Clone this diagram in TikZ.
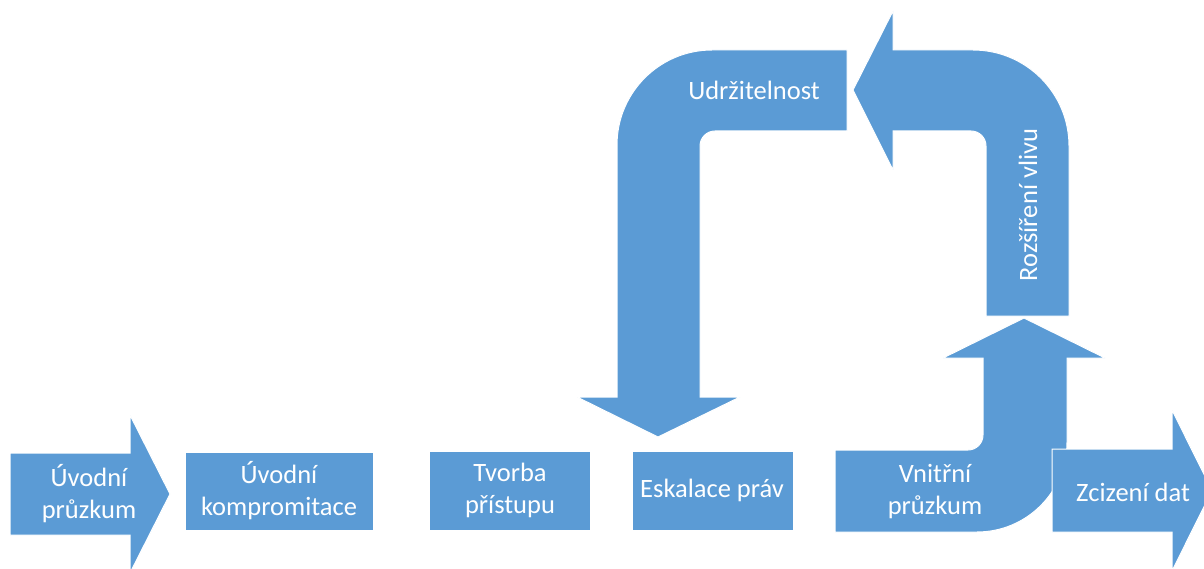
\documentclass[tikz,border=0pt]{standalone}
\usepackage{fontspec}
\setmainfont{Carlito}
\definecolor{flowblue}{HTML}{5B9BD5}
\begin{document}
\begin{tikzpicture}[x=1pt,y=-1pt,
  shapefill/.style={fill=flowblue,draw=white,line width=1pt},
  lbl/.style={text=white,align=center,inner sep=0pt,
    font=\fontsize{26.5}{32}\selectfont}]
\useasboundingbox (0,0) rectangle (1204,569);
\clip (0,0) rectangle (1204,569);

% first step: right arrow
\filldraw[shapefill] (10,453) -- (130,453) -- (130,415) -- (170,494)
  -- (130,573) -- (130,535) -- (10,535) -- cycle;
% plain steps
\filldraw[shapefill] (185,452) rectangle (373,530);
\filldraw[shapefill] (429,451) rectangle (590,530);
\filldraw[shapefill] (632,451) rectangle (793,530);

% bent arrow going up from the inner reconnaissance step
\filldraw[shapefill] (835,450) -- (968,450) arc[start angle=90,end angle=0,radius=15]
  -- (983,358) -- (943,358) -- (1024,318) -- (1105,358) -- (1067,358)
  -- (1067,442) arc[start angle=0,end angle=90,radius=90]
  -- (835,532) -- cycle;

% bent arrow turning left at the top right
\filldraw[shapefill] (853,90) -- (893,11) -- (893,50) -- (973,50)
  arc[start angle=270,end angle=360,radius=96]
  -- (1069,316) -- (986,316) -- (986,146)
  arc[start angle=0,end angle=-90,radius=15]
  -- (893,131) -- (893,170) -- cycle;

% bent arrow coming down onto privilege escalation
\filldraw[shapefill] (847,50) -- (712,50) arc[start angle=270,end angle=180,radius=95]
  -- (617,397) -- (577,397) -- (658,437) -- (740,397) -- (700,397)
  -- (700,146) arc[start angle=180,end angle=270,radius=15]
  -- (847,131) -- cycle;

% final step: right arrow
\filldraw[shapefill] (1052,449) -- (1172,449) -- (1172,410) -- (1212,490.5)
  -- (1172,571) -- (1172,532) -- (1052,532) -- cycle;

% labels
\node[lbl] (uvp) at (89,494) {Úvodní\\průzkum};
\node[lbl] (uvk) at (279,491) {Úvodní\\kompromitace};
\node[lbl] (tvp) at (510,490) {Tvorba\\přístupu};
\node[lbl] (esk) at (712,490) {Eskalace práv};
\node[lbl] (vnp) at (935,492) {Vnitřní\\průzkum};
\node[lbl] (zcd) at (1133,492) {Zcizení dat};
\node[lbl] (udr) at (754,90) {Udržitelnost};
\node[lbl,rotate=90] (roz) at (1028,205) {Rozšíření vlivu};
\end{tikzpicture}
\end{document}
